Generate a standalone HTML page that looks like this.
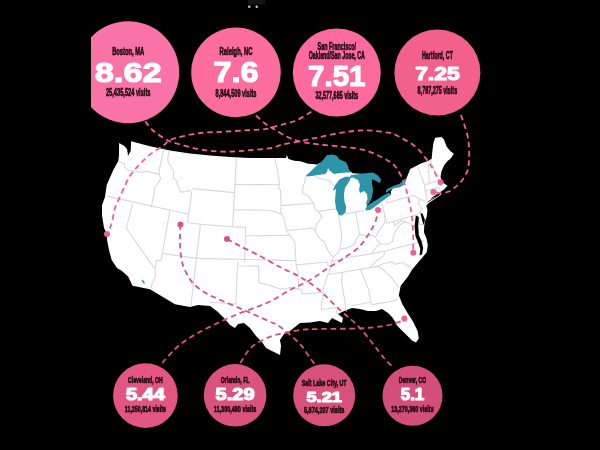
<!DOCTYPE html>
<html><head><meta charset="utf-8"><style>
html,body{margin:0;padding:0;background:#000;width:600px;height:450px;overflow:hidden}
svg{display:block;filter:blur(0.45px)}
.n{font-family:"Liberation Sans",sans-serif;font-weight:bold;fill:#fff;stroke:#fff;stroke-width:1.2px;stroke-linejoin:round}
.l{font-family:"Liberation Sans",sans-serif;font-weight:bold;fill:#1f0a12;stroke:#1f0a12;stroke-width:0.6px}
</style></head><body>
<svg width="600" height="450" viewBox="0 0 600 450">
<defs><clipPath id="clipL"><rect x="91" y="0" width="509" height="450"/></clipPath></defs>
<rect width="600" height="450" fill="#000"/>
<polygon points="119.1,143.0 124.0,145.7 127.0,149.0 128.0,155.0 127.6,156.4 130.7,151.0 131.1,141.2 150.0,146.3 170.0,150.5 190.0,153.5 210.0,155.6 230.0,157.0 250.0,158.0 286.0,158.0 286.8,154.9 288.5,159.0 294.3,160.8 300.2,161.3 308.3,163.7 315.3,164.2 316.5,164.8 330.0,158.0 344.0,163.0 348.5,170.0 352.7,173.3 360.0,173.8 367.3,174.0 372.0,176.0 371.0,185.0 371.0,195.0 368.5,203.0 366.5,207.0 370.0,207.0 378.0,201.7 386.0,196.3 391.0,194.5 391.0,191.0 394.0,187.0 399.0,185.7 404.0,182.5 406.0,179.5 410.2,169.0 421.0,163.6 428.0,161.0 431.6,159.0 432.5,150.0 433.4,143.0 435.2,137.8 441.4,136.9 444.0,139.6 446.7,146.7 450.3,151.0 453.8,153.8 451.0,158.3 447.6,161.0 444.0,165.4 441.4,171.6 440.5,177.0 442.3,182.3 447.6,185.8 444.0,189.4 438.7,193.0 433.4,196.5 430.0,199.0 436.0,196.8 441.5,193.3 440.5,195.2 434.0,199.5 428.0,203.5 426.3,206.0 427.5,210.0 426.7,216.7 424.4,223.3 423.9,232.2 426.7,238.9 427.8,245.6 426.7,252.2 422.2,257.8 417.8,262.8 412.2,269.4 408.2,276.3 400.7,285.8 398.8,295.2 402.5,304.6 408.2,314.0 413.0,321.6 417.6,331.0 418.8,338.6 416.0,342.4 412.0,340.5 406.3,334.8 400.7,329.2 397.0,325.4 395.0,321.6 392.0,317.0 388.0,313.0 382.0,309.0 376.0,311.0 368.0,311.0 360.0,309.0 352.0,308.0 344.0,311.0 338.0,314.0 343.0,318.0 342.0,323.0 338.0,321.0 332.0,318.0 328.0,323.0 320.0,321.0 310.0,322.4 300.0,323.0 290.0,331.0 284.0,334.0 280.0,340.0 281.0,346.0 280.0,355.0 274.0,352.0 266.0,348.0 262.0,342.0 256.0,336.0 250.0,328.0 244.0,323.0 238.0,324.0 235.0,328.0 230.0,325.0 224.0,318.0 218.0,312.0 210.0,306.0 198.0,305.0 190.0,307.0 175.0,304.2 150.0,289.2 132.5,285.8 128.3,276.7 122.0,271.0 117.0,268.0 111.7,260.0 109.0,250.0 107.0,240.0 107.0,234.0 104.0,228.0 102.0,215.0 102.0,205.0 105.0,197.0 106.7,185.0 113.3,170.0 118.3,161.0 119.0,155.0" fill="#ffffff"/>
<g fill="none" stroke="#d8d8d8" stroke-width="1.1" stroke-linejoin="round"><polyline points="118.9,161.4 124.4,164.0 124.7,167.2 127.5,170.3 133.5,171.0 140.6,172.4 145.1,171.7 147.1,171.4 159.1,174.1"/><polyline points="163.8,148.7 159.2,170.3 159.1,174.1"/><polyline points="159.1,174.1 160.6,178.8 157.8,183.5 154.3,188.0 154.6,192.5 154.1,194.1 151.1,207.6"/><polyline points="106.9,196.1 188.7,214.2"/><polyline points="132.7,203.3 126.3,228.3 155.2,269.5 155.1,272.9 155.4,277.3 152.1,283.6 151.0,288.4"/><polyline points="169.8,211.2 160.9,261.0 156.4,260.2 155.2,269.5"/><polyline points="162.3,253.4 196.4,258.4"/><polyline points="196.4,258.4 190.9,306.1"/><polyline points="200.4,224.3 196.4,258.4"/><polyline points="169.3,149.8 167.6,158.4 168.6,163.3 170.6,165.4 173.6,171.3 173.3,178.2 176.7,181.0 178.0,186.0 180.4,192.1 185.4,191.5 189.9,190.4 191.7,192.9"/><polyline points="191.7,192.9 187.5,222.7 200.4,224.3"/><polyline points="192.3,188.6 234.5,192.6"/><polyline points="234.5,192.6 232.7,226.9 245.6,227.4 244.6,261.7"/><polyline points="200.4,224.3 232.7,226.9"/><polyline points="196.4,258.4 295.9,260.6"/><polyline points="238.0,261.5 237.9,265.7 258.7,266.1 258.7,282.6 264.4,284.0 273.0,286.4 280.4,289.1 285.4,288.9 291.1,287.3 298.6,289.1 301.9,289.6 302.2,294.1 323.1,292.2"/><polyline points="237.4,265.7 235.8,303.9 209.5,302.3"/><polyline points="236.4,158.2 234.5,192.6"/><polyline points="235.0,184.5 279.6,184.7"/><polyline points="233.6,209.8 268.4,210.3 274.7,211.5 280.5,214.3"/><polyline points="245.4,236.0 289.8,235.3"/><polyline points="274.8,158.5 277.4,169.6 279.2,181.6 279.6,184.7 278.6,187.6 280.5,190.1 281.1,205.6"/><polyline points="281.1,205.6 313.5,203.2"/><polyline points="281.1,205.6 280.5,214.3 282.0,214.2 284.5,220.1 285.8,226.9 286.5,230.5 289.8,235.3 292.6,238.6 294.9,242.7 296.1,264.9 298.1,274.2 298.6,289.1"/><polyline points="286.5,230.5 312.8,228.3 315.0,230.0"/><polyline points="296.1,264.9 327.1,262.0 328.0,265.7 330.7,265.8"/><polyline points="305.5,176.3 304.8,181.8 302.7,187.8 302.8,193.4 307.9,195.5 313.5,203.2 315.6,209.8 318.1,211.3"/><polyline points="315.5,176.3 317.6,178.1 324.3,179.3 330.0,181.1 333.8,186.5"/><polyline points="318.1,211.3 335.9,208.9"/><polyline points="318.1,211.3 321.8,216.9 319.9,219.7 317.1,223.5 315.0,230.0 317.8,236.4 324.5,242.5 327.4,249.5 330.7,254.6 333.5,256.9 331.6,261.4 330.7,265.8 328.8,273.8 327.5,274.8 326.0,280.1 323.2,288.1 323.1,292.3 322.8,298.3 321.2,304.4 321.4,309.5 335.7,307.8 337.4,314.4"/><polyline points="338.5,214.9 341.6,235.4 341.5,238.4 340.5,245.5 340.0,249.0 338.1,252.8 333.5,256.9"/><polyline points="338.5,214.9 364.3,210.5"/><polyline points="355.6,212.0 359.7,234.4"/><polyline points="340.0,249.0 346.4,248.1 350.3,246.5 354.2,245.0 356.5,238.5 359.7,234.4 365.6,235.9 372.4,235.4 375.5,237.3 377.5,233.4 380.0,229.3 384.2,223.9 385.2,219.3 384.8,215.5"/><polyline points="384.8,215.5 382.1,204.1"/><polyline points="331.6,261.4 341.6,260.0 341.4,258.5 371.4,253.9 384.8,251.0 424.1,240.9"/><polyline points="327.5,274.8 378.1,266.4"/><polyline points="342.3,272.8 341.6,281.5 344.5,299.0 346.3,311.5"/><polyline points="360.6,269.8 368.6,289.9 370.8,302.3"/><polyline points="351.5,305.6 370.8,302.3 372.3,304.6 393.7,301.0 397.2,299.3"/><polyline points="378.1,266.4 384.0,270.3 391.7,278.2 399.0,287.3"/><polyline points="378.1,266.4 383.3,263.5 392.4,261.9 394.4,264.4 402.1,262.6 412.1,268.2"/><polyline points="369.7,268.1 374.5,262.8 383.7,255.6 384.8,251.0"/><polyline points="371.4,253.9 377.3,245.7 381.2,244.0 376.0,239.2"/><polyline points="381.2,244.0 388.2,244.1 392.5,241.3 394.2,233.8 397.1,228.6 401.4,223.9 405.7,221.9 401.1,220.5 394.4,225.8 393.3,221.5 386.6,223.2 384.8,215.5"/><polyline points="393.3,221.5 416.8,214.8"/><polyline points="405.7,221.9 410.4,224.1 417.8,229.9"/><polyline points="416.8,214.8 420.0,225.2 424.8,223.7"/><polyline points="418.5,213.6 422.5,208.7 418.5,204.6 419.5,199.3"/><polyline points="386.2,200.7 386.8,203.0 413.8,195.3 419.5,199.3 424.7,200.8 425.6,201.4"/><polyline points="426.9,200.0 427.0,197.3 425.0,191.2 424.5,185.0 417.8,166.8"/><polyline points="425.0,191.3 437.9,187.1 440.9,190.5"/><polyline points="435.3,187.8 437.4,193.7"/><polyline points="429.3,183.5 429.0,175.7 428.4,163.1"/><polyline points="424.6,185.2 436.2,181.0 438.8,178.8"/><polyline points="429.9,159.8 433.4,167.7 435.0,171.7 438.7,176.9"/></g>
<polygon points="415.8,215.5 414.6,226 415.4,236 418.3,243 420.3,249 419.5,255.5 422,254.5 423.2,248 421.5,241 418.8,235 418.2,226 418.8,217" fill="#000"/><polygon points="420.5,213 422.5,213.5 425,220 423.5,225 421.8,219" fill="#000"/><polyline points="427.5,202 433,198.8 440,194.5" fill="none" stroke="#000" stroke-width="0.8"/><path d="M142,280 L144.5,283.5" stroke="#2c95a9" stroke-width="1.3"/>
<polygon points="306.0,175.5 310.0,172.0 315.0,167.0 320.0,163.0 323.0,160.0 327.0,155.0 333.0,154.5 337.0,156.0 339.0,159.0 343.0,161.0 346.0,162.0 348.0,166.0 349.0,170.0 351.0,172.5 347.0,172.5 340.0,173.0 334.0,174.0 330.0,171.0 328.0,168.0 327.0,172.0 325.0,174.0 318.0,175.0 312.0,176.0 307.0,176.5" fill="#2c95a9"/>
<polygon points="339.4,179.4 345.0,176.7 348.9,176.7 351.0,177.5 349.4,181.1 347.2,184.4 345.0,187.8 343.9,194.4 344.4,201.1 346.1,206.7 345.6,212.2 341.7,215.6 338.9,215.0 336.1,208.9 335.0,201.1 335.6,193.3 336.1,189.0 332.8,191.1 335.0,185.6 338.3,181.1" fill="#2c95a9"/>
<polygon points="351.0,175.0 360.0,174.0 368.0,173.0 373.0,172.5 378.0,175.5 381.0,179.5 380.0,183.0 375.0,180.5 372.0,179.0 371.5,182.0 372.5,186.0 373.0,191.0 372.0,197.0 370.0,202.0 367.0,205.5 366.0,204.0 367.5,199.0 367.0,194.0 364.0,191.0 360.0,193.0 359.0,190.0 360.0,185.0 358.0,180.0 353.0,177.5 349.0,178.0" fill="#2c95a9"/>
<polygon points="365.3,208.8 368.9,204.4 377.8,199.0 384.9,194.6 389.4,192.8 391.1,194.6 386.7,198.1 377.8,204.4 370.7,209.7 366.2,210.6" fill="#2c95a9"/>
<polygon points="385.8,191.9 386.7,189.2 393.8,185.7 399.1,183.9 403.6,180.3 405.4,178.6 406.3,180.3 404.5,184.8 399.1,187.5 393.8,188.3 389.4,190.6 386.7,192.8" fill="#2c95a9"/>
<path d="M145.2,121.3 C146.5,122.9 150.0,127.8 153.3,130.7 C156.6,133.6 161.1,136.7 165.0,138.8 C168.9,140.9 170.9,141.8 176.7,143.5 C182.5,145.2 192.2,147.9 200.0,149.3 C207.8,150.7 215.5,151.5 223.3,151.7 C231.1,151.9 238.9,151.1 246.7,150.5 C254.5,149.9 263.9,149.2 270.0,148.2 C276.1,147.2 278.0,145.5 283.3,144.3 C288.6,143.1 296.2,142.0 302.0,140.8 C307.8,139.6 311.7,138.7 318.3,137.3 C324.9,136.0 333.9,133.9 341.7,132.7 C349.5,131.5 357.2,130.3 365.0,130.3 C372.8,130.3 382.8,131.8 388.3,132.7 C393.8,133.6 393.2,133.7 397.8,136.0 C402.4,138.3 410.9,142.9 415.6,146.7 C420.4,150.5 423.3,155.2 426.3,159.0 C429.3,162.8 431.3,166.2 433.4,169.8 C435.5,173.4 437.5,178.4 438.7,180.5 C439.9,182.6 440.2,182.0 440.5,182.3" fill="none" stroke="#ef6099" stroke-width="1.8" stroke-dasharray="5.5 3.8"/>
<path d="M256.0,115.5 C257.6,116.9 262.3,121.4 265.3,123.7 C268.3,126.0 270.2,126.9 274.0,129.2 C277.8,131.5 283.3,135.2 288.0,137.3 C292.7,139.4 296.9,140.8 302.0,142.0 C307.1,143.2 311.7,143.5 318.3,144.3 C324.9,145.1 333.9,145.7 341.7,146.7 C349.5,147.7 358.0,148.3 365.0,150.2 C372.0,152.1 378.6,155.6 383.7,158.3 C388.8,161.0 392.1,162.8 395.3,166.5 C398.5,170.2 401.2,176.4 403.1,180.5 C405.0,184.6 405.4,186.3 406.7,191.2 C408.0,196.1 409.9,203.5 411.0,210.0 C412.1,216.5 412.6,222.9 413.0,230.0 C413.4,237.1 413.2,249.0 413.3,252.8" fill="none" stroke="#ef6099" stroke-width="1.8" stroke-dasharray="5.5 3.8"/>
<path d="M311.3,111.7 C308.6,113.2 301.2,118.5 295.0,121.0 C288.8,123.5 279.1,125.4 274.0,126.8 C268.9,128.2 269.2,128.6 264.7,129.2 C260.1,129.8 253.6,129.8 246.7,130.2 C239.8,130.6 231.1,131.3 223.3,131.8 C215.5,132.3 207.8,132.0 200.0,133.0 C192.2,134.0 181.9,136.4 176.7,137.7 C171.5,139.0 171.2,139.5 169.0,140.7 C166.8,141.9 166.0,143.5 163.8,145.1 C161.6,146.7 158.5,148.7 155.8,150.5 C153.1,152.3 150.2,154.1 147.8,156.2 C145.4,158.3 143.2,160.8 141.1,162.9 C139.0,165.1 137.2,166.8 135.3,169.1 C133.4,171.4 131.4,173.7 129.6,176.5 C127.8,179.3 126.3,182.8 124.7,186.2 C123.1,189.6 121.4,193.5 119.8,197.2 C118.2,200.9 116.1,204.3 114.9,208.2 C113.7,212.1 113.2,217.2 112.4,220.5 C111.6,223.8 110.9,225.6 110.0,227.8 C109.1,230.1 107.5,233.0 107.0,234.0" fill="none" stroke="#ef6099" stroke-width="1.8" stroke-dasharray="5.5 3.8"/>
<path d="M461.0,115.0 C462.0,118.2 465.9,128.9 467.2,134.2 C468.5,139.5 468.7,142.2 469.0,146.7 C469.3,151.2 469.3,156.8 469.0,161.0 C468.7,165.2 468.4,168.3 467.2,171.6 C466.0,174.8 464.0,177.8 461.9,180.5 C459.8,183.2 457.1,185.7 454.7,187.6 C452.3,189.5 450.3,191.1 447.6,192.0 C444.9,192.9 441.1,193.0 438.7,193.0 C436.3,193.0 434.3,192.2 433.4,192.0" fill="none" stroke="#ef6099" stroke-width="1.8" stroke-dasharray="5.5 3.8"/>
<path d="M162.2,363.0 C164.3,360.7 170.9,352.9 175.0,349.0 C179.1,345.1 182.4,342.6 186.7,339.7 C191.0,336.8 195.3,334.4 200.7,331.5 C206.1,328.6 213.1,325.1 219.3,322.2 C225.5,319.3 231.8,316.5 238.0,314.0 C244.2,311.5 251.2,309.1 256.7,307.0 C262.1,304.9 265.1,304.0 270.7,301.2 C276.2,298.4 283.4,293.5 290.0,290.0 C296.6,286.5 303.7,283.7 310.0,280.0 C316.3,276.3 322.3,271.7 328.0,268.0 C333.7,264.3 338.7,261.7 344.0,258.0 C349.3,254.3 355.7,250.3 360.0,246.0 C364.3,241.7 367.3,236.3 370.0,232.0 C372.7,227.7 374.7,223.7 376.0,220.0 C377.3,216.3 377.7,211.7 378.0,210.0" fill="none" stroke="#d4567e" stroke-width="1.8" stroke-dasharray="5.5 3.8"/>
<path d="M240.3,363.0 C241.9,360.7 246.2,352.7 249.7,349.0 C253.2,345.3 257.0,343.1 261.3,340.8 C265.6,338.5 268.9,336.8 275.3,335.0 C281.8,333.2 292.6,331.0 300.0,330.0 C307.4,329.0 310.0,329.3 320.0,329.0 C330.0,328.7 349.3,328.9 360.0,328.4 C370.7,327.9 377.3,327.1 384.0,326.0 C390.7,324.9 396.6,322.8 400.0,321.6 C403.4,320.4 403.7,319.1 404.4,318.6" fill="none" stroke="#d4567e" stroke-width="1.8" stroke-dasharray="5.5 3.8"/>
<path d="M180.4,224.4 C180.3,227.0 179.9,234.7 180.0,240.0 C180.1,245.3 180.3,251.3 181.0,256.0 C181.7,260.7 182.2,263.7 184.0,268.0 C185.8,272.3 188.7,278.0 192.0,282.0 C195.3,286.0 199.7,289.2 204.0,292.0 C208.3,294.8 211.2,295.9 218.0,299.0 C224.8,302.1 236.6,306.8 245.0,310.5 C253.4,314.2 262.5,318.3 268.3,321.0 C274.1,323.7 274.7,323.0 280.0,326.8 C285.3,330.6 295.0,338.8 300.0,344.0 C305.0,349.2 307.5,354.6 310.0,358.0 C312.5,361.4 314.2,363.4 315.0,364.5" fill="none" stroke="#d4567e" stroke-width="1.8" stroke-dasharray="5.5 3.8"/>
<path d="M227.0,239.0 C229.2,240.2 234.5,243.2 240.0,246.0 C245.5,248.8 253.7,252.7 260.0,256.0 C266.3,259.3 273.0,263.3 278.0,266.0 C283.0,268.7 286.3,270.2 290.0,272.0 C293.7,273.8 295.3,274.2 300.0,277.0 C304.7,279.8 311.3,283.5 318.0,289.0 C324.7,294.5 333.0,303.5 340.0,310.0 C347.0,316.5 352.7,320.0 360.0,328.0 C367.3,336.0 378.5,351.5 384.0,358.0 C389.5,364.5 391.5,365.5 393.0,367.0" fill="none" stroke="#d4567e" stroke-width="1.8" stroke-dasharray="5.5 3.8"/>
<circle cx="440.5" cy="182.3" r="3" fill="#ef6099"/>
<circle cx="433.4" cy="192" r="3" fill="#ef6099"/>
<circle cx="413.3" cy="252.8" r="3" fill="#ef6099"/>
<circle cx="107" cy="234" r="3" fill="#ef6099"/>
<circle cx="378" cy="210" r="3" fill="#ef6099"/>
<circle cx="404.4" cy="318.6" r="3" fill="#ef6099"/>
<circle cx="180.4" cy="224.4" r="3" fill="#d4567e"/>
<circle cx="227" cy="239" r="3" fill="#d4567e"/>
<g clip-path="url(#clipL)">
<circle cx="128.2" cy="72.2" r="51" fill="#fa73a6"/>
<text x="128.2" y="55.2" font-size="10.5" text-anchor="middle" textLength="32" lengthAdjust="spacingAndGlyphs" class="l">Boston, MA</text>
<text x="128.2" y="81.9" font-size="28" text-anchor="middle" textLength="67" lengthAdjust="spacingAndGlyphs" class="n">8.62</text>
<text x="128.2" y="96.4" font-size="10.5" text-anchor="middle" textLength="44.5" lengthAdjust="spacingAndGlyphs" class="l">25,435,524 visits</text>
<circle cx="236" cy="72.4" r="44.8" fill="#fd6e9e"/>
<text x="236.0" y="55" font-size="10.5" text-anchor="middle" textLength="33" lengthAdjust="spacingAndGlyphs" class="l">Raleigh, NC</text>
<text x="236.0" y="82.2" font-size="29.5" text-anchor="middle" textLength="45.2" lengthAdjust="spacingAndGlyphs" class="n">7.6</text>
<text x="236.0" y="96.9" font-size="10.5" text-anchor="middle" textLength="40.9" lengthAdjust="spacingAndGlyphs" class="l">8,844,509 visits</text>
<circle cx="336.8" cy="72.5" r="44" fill="#fd6b9e"/>
<text x="336.8" y="49.5" font-size="10.5" text-anchor="middle" textLength="38.4" lengthAdjust="spacingAndGlyphs" class="l">San Francisco/</text>
<text x="336.8" y="59" font-size="10.5" text-anchor="middle" textLength="56.3" lengthAdjust="spacingAndGlyphs" class="l">Oakland/San Jose, CA</text>
<text x="336.8" y="85.9" font-size="29.5" text-anchor="middle" textLength="57.5" lengthAdjust="spacingAndGlyphs" class="n">7.51</text>
<text x="336.8" y="99.4" font-size="10" text-anchor="middle" textLength="42.7" lengthAdjust="spacingAndGlyphs" class="l">32,577,685 visits</text>
<circle cx="437.4" cy="72.5" r="43" fill="#f1618c"/>
<text x="437.4" y="58.5" font-size="10.5" text-anchor="middle" textLength="31" lengthAdjust="spacingAndGlyphs" class="l">Hartford, CT</text>
<text x="437.4" y="80.2" font-size="18.8" text-anchor="middle" textLength="44.5" lengthAdjust="spacingAndGlyphs" class="n">7.25</text>
<text x="437.4" y="93.7" font-size="10" text-anchor="middle" textLength="39.6" lengthAdjust="spacingAndGlyphs" class="l">8,787,275 visits</text>
<circle cx="145.4" cy="395.6" r="32.3" fill="#e35682"/>
<text x="145.4" y="383" font-size="9.5" text-anchor="middle" textLength="34.6" lengthAdjust="spacingAndGlyphs" class="l">Cleveland, OH</text>
<text x="145.4" y="400.2" font-size="16" text-anchor="middle" textLength="39" lengthAdjust="spacingAndGlyphs" class="n">5.44</text>
<text x="145.4" y="412" font-size="9.5" text-anchor="middle" textLength="41.2" lengthAdjust="spacingAndGlyphs" class="l">11,250,814 visits</text>
<circle cx="235.1" cy="395.3" r="31.3" fill="#dc527e"/>
<text x="235.1" y="383" font-size="9.5" text-anchor="middle" textLength="28.7" lengthAdjust="spacingAndGlyphs" class="l">Orlando, FL</text>
<text x="235.1" y="399.8" font-size="16.5" text-anchor="middle" textLength="39" lengthAdjust="spacingAndGlyphs" class="n">5.29</text>
<text x="235.1" y="412.4" font-size="9.5" text-anchor="middle" textLength="42.6" lengthAdjust="spacingAndGlyphs" class="l">11,300,490 visits</text>
<circle cx="324.2" cy="395.3" r="31" fill="#d8507c"/>
<text x="324.2" y="386" font-size="9.5" text-anchor="middle" textLength="44.9" lengthAdjust="spacingAndGlyphs" class="l">Salt Lake City, UT</text>
<text x="324.2" y="401.9" font-size="15.5" text-anchor="middle" textLength="35.5" lengthAdjust="spacingAndGlyphs" class="n">5.21</text>
<text x="324.2" y="413.3" font-size="9.5" text-anchor="middle" textLength="40.5" lengthAdjust="spacingAndGlyphs" class="l">5,874,207 visits</text>
<circle cx="412.5" cy="395.8" r="30" fill="#d44e7b"/>
<text x="412.5" y="383" font-size="9.5" text-anchor="middle" textLength="27.4" lengthAdjust="spacingAndGlyphs" class="l">Denver, CO</text>
<text x="412.5" y="399.8" font-size="16.5" text-anchor="middle" textLength="23.5" lengthAdjust="spacingAndGlyphs" class="n">5.1</text>
<text x="412.5" y="412.4" font-size="9.5" text-anchor="middle" textLength="42.3" lengthAdjust="spacingAndGlyphs" class="l">13,270,360 visits</text>
</g>
<circle cx="249.3" cy="6.7" r="1.2" fill="#ccc"/><circle cx="256.7" cy="6.7" r="1.2" fill="#ccc"/><rect x="248" y="0" width="17" height="4.5" fill="#fff" opacity="0.08"/>
</svg></body></html>
